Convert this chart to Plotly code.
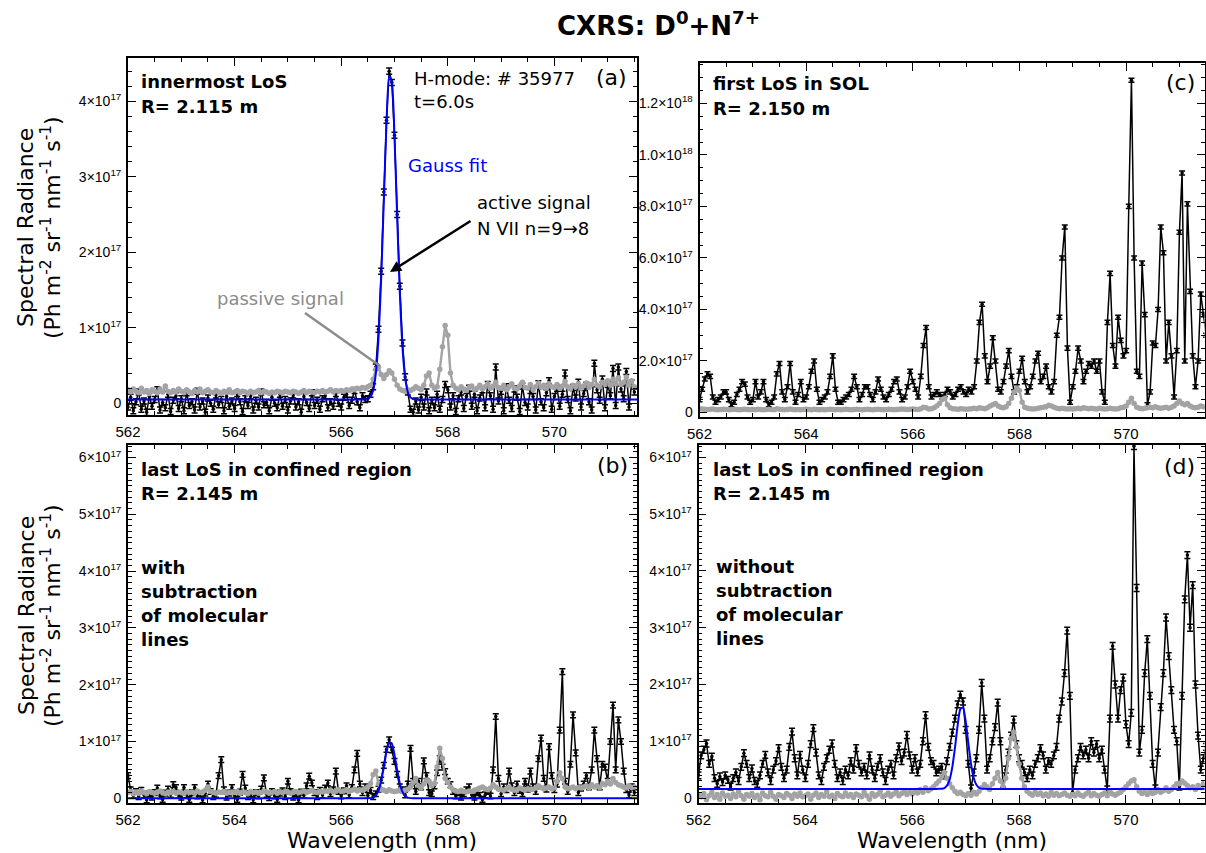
import numpy as np
import plotly.graph_objects as go

W, H = 1206, 853
UNIT = 1e16  # all spectral values below are in units of 1e16 Ph m^-2 sr^-1 nm^-1 s^-1

# detector wavelength grid (nm)
wl_start, wl_step, wl_count = 562.0, 0.05, 191
wavelength = np.round(wl_start + wl_step * np.arange(wl_count), 2)

# ---------------- panel (a): innermost LoS ----------------
a_active = [
    -0.5, 0.8, -1.0, 0.2, 1.5, -0.8, 0.3, -1.2, 0.9, -0.4, 0.5, 1.8, -0.9, 0.1, -0.6, 1.2, -1.1, 0.4, 1.0, -0.7,
    0.6, -1.0, 1.4, -0.3, 0.2, -0.9, 1.6, -0.5, 0.3, -1.2, 0.7, 0.0, -0.8, 1.1, -0.2, 0.5, -1.0, 0.9, -0.4, 0.3,
    -0.7, 1.3, 0.2, -1.1, 0.6, -0.3, 1.0, -0.9, 0.4, -0.5, 1.5, -0.2, 0.1, -1.0, 0.8, 0.0, -0.6, 1.2, -0.4, 0.5,
    -0.9, 0.3, 1.1, -0.5, 0.2, -1.2, 0.9, 0.1, -0.7, 1.4, -0.3, 0.4, -0.8, 0.6, 1.0, -0.6, 0.2, -0.4, 1.3, 0.0,
    -0.5, 0.8, 1.2, -0.3, 0.4, 1.7, 0.2, -0.6, 1.0, 0.5, 0.6, 1.2, 2.2, 4.8, 9.8, 17.5, 28.0, 37.5, 44.0, 42.5,
    35.5, 25.0, 15.5, 8.0, 3.5, 1.5, -0.8, -1.2, 0.3, -0.9, 0.8, -0.5, 1.5, -1.0, 0.4, -0.6, 1.2, -0.8, 0.5, 2.5,
    1.8, -0.5, 1.0, -1.1, 0.6, 1.5, -0.7, 0.9, 2.0, -0.4, 1.2, -1.0, 0.7, 1.8, -0.6, 2.5, 1.0, -0.8, 4.8, 0.3,
    1.6, -1.0, 2.2, 0.4, -0.7, 1.9, 0.8, -1.1, 2.3, 0.1, -0.5, 1.7, 0.9, -0.9, 2.6, 0.2, -0.6, 1.4, 3.0, -0.8,
    0.9, 2.0, -0.4, 1.2, 4.0, 0.5, -1.0, 2.1, 0.7, 2.8, -0.5, 1.3, 2.4, 0.2, -0.9, 5.3, 1.8, 0.4, 3.2, -0.6,
    2.5, 1.0, 4.6, -0.3, 4.8, 1.9, 0.6, 4.2, -0.5, 2.7, 1.5,
]
a_passive = [
    1.8, 1.5, 1.9, 1.6, 1.4, 2.0, 1.5, 1.7, 1.3, 1.8, 1.6, 1.4, 1.9, 1.5, 2.3, 1.6, 1.4, 1.7, 1.5, 1.9,
    1.6, 1.4, 1.8, 1.5, 1.3, 1.7, 1.5, 1.9, 1.4, 1.6, 1.8, 1.5, 1.4, 1.7, 1.5, 1.3, 1.6, 1.5, 1.8, 1.4,
    1.5, 1.7, 1.4, 1.6, 1.5, 1.3, 1.6, 1.4, 1.5, 1.7, 1.4, 1.6, 1.5, 1.3, 1.5, 1.4, 1.6, 1.5, 1.4, 1.6,
    1.5, 1.4, 1.6, 1.5, 1.3, 1.5, 1.7, 1.4, 1.6, 1.5, 1.4, 1.6, 1.5, 1.7, 1.5, 1.6, 1.8, 1.5, 1.7, 1.6,
    1.7, 1.6, 1.8, 1.7, 1.9, 1.8, 2.0, 1.9, 2.1, 2.0, 2.2, 2.4, 3.2, 4.5, 4.8, 3.8, 3.3, 3.8, 4.3, 4.0,
    3.2, 2.4, 1.9, 1.7, 1.6, 1.8, 1.7, 1.9, 2.2, 2.0, 1.8, 2.4, 3.6, 4.0, 2.4, 2.0, 2.2, 4.5, 7.5, 10.3,
    9.0, 4.0, 2.4, 2.0, 1.8, 2.2, 1.9, 1.7, 2.1, 2.3, 1.8, 2.0, 2.4, 1.9, 2.2, 2.6, 2.0, 2.3, 2.8, 2.1,
    2.0, 2.4, 1.8, 2.2, 2.6, 2.0, 1.9, 2.3, 2.8, 2.1, 2.0, 2.5, 1.8, 2.2, 2.7, 2.1, 2.4, 2.0, 2.6, 2.2,
    2.1, 2.5, 2.0, 2.3, 2.9, 2.2, 1.9, 2.4, 2.2, 2.6, 2.0, 2.3, 2.7, 2.1, 2.5, 3.2, 2.4, 2.2, 2.8, 2.5,
    3.0, 2.4, 3.2, 2.6, 3.4, 2.5, 2.8, 3.5, 2.4, 3.0, 2.2,
]
a_fit_x = [562.0, 566.40, 566.45, 566.50, 566.55, 566.60, 566.65, 566.70, 566.75, 566.80, 566.85, 566.90,
           566.95, 567.00, 567.05, 567.10, 567.15, 567.20, 567.25, 567.30, 567.35, 567.40, 567.45, 571.55]
a_fit_y = [0.5, 0.5, 0.52, 0.6, 0.87, 1.74, 3.96, 8.6, 16.5, 26.9, 37.2, 43.4,
           42.6, 35.3, 24.7, 14.6, 7.4, 3.36, 1.49, 0.79, 0.57, 0.5, 0.5, 0.5]
a_err = 0.4

# ---------------- panel (c): first LoS in SOL ----------------
c_active = [
    5, 9, 13, 15, 14, 6, 4, 5, 6, 8, 8, 5, 3, 4, 7, 9, 12, 11, 6, 4,
    5, 12, 6, 8, 12, 5, 3, 4, 6, 15, 19, 8, 5, 10, 19, 8, 4, 7, 12, 5,
    6, 10, 16, 20, 9, 4, 5, 6, 8, 14, 22, 9, 4, 4, 5, 6, 7, 9, 14, 10,
    5, 7, 10, 10, 7, 5, 8, 13, 9, 6, 5, 7, 9, 12, 13, 8, 5, 6, 10, 16,
    12, 9, 6, 14, 26, 33, 10, 6, 7, 8, 7, 6, 7, 9, 8, 6, 7, 9, 10, 8,
    7, 9, 8, 10, 20, 35, 42, 22, 12, 18, 29, 20, 9, 8, 12, 18, 24, 14, 8, 10,
    16, 21, 12, 8, 10, 14, 20, 23, 12, 14, 18, 10, 8, 12, 30, 37, 60, 72, 25, 4,
    10, 16, 25, 20, 12, 16, 19, 18, 20, 16, 20, 8, 4, 35, 54, 26, 18, 37, 28, 22,
    24, 80, 129, 60, 16, 14, 58, 38, 3, 8, 27, 26, 40, 72, 62, 20, 35, 22, 6, 24,
    70, 93, 20, 81, 47, 22, 10, 20, 46, 38, 30,
]
c_passive = [
    1.5, 1.4, 1.3, 1.2, 1.3, 1.4, 1.2, 1.1, 1.2, 1.3, 1.2, 1.1, 1.2, 1.3, 1.2, 1.1, 1.2, 1.3, 1.2, 1.1,
    1.2, 1.1, 1.3, 1.2, 1.1, 1.2, 1.3, 1.2, 1.1, 1.5, 1.3, 1.2, 1.1, 1.2, 1.4, 1.2, 1.1, 1.2, 1.1, 1.2,
    1.3, 1.2, 1.1, 1.3, 1.2, 1.1, 1.2, 1.1, 1.2, 1.3, 1.2, 1.1, 1.2, 1.1, 1.2, 1.3, 1.2, 1.1, 1.2, 1.3,
    1.2, 1.1, 1.2, 1.3, 1.2, 1.1, 1.2, 1.3, 1.2, 1.1, 1.2, 1.3, 1.2, 1.1, 1.2, 1.3, 1.4, 1.3, 1.2, 1.3,
    1.4, 1.3, 1.2, 1.5, 2.0, 1.8, 1.4, 1.5, 1.8, 2.5, 3.5, 5.0, 5.5, 3.0, 1.8, 1.5, 1.4, 1.3, 1.5, 1.4,
    1.3, 1.4, 1.5, 1.6, 1.5, 1.8, 1.6, 1.5, 1.8, 2.5, 3.0, 3.5, 2.5, 2.0, 1.8, 2.2, 3.5, 5.5, 8.0, 9.5,
    8.5, 4.0, 2.0, 1.6, 1.5, 1.4, 1.5, 1.6, 1.8, 2.0, 2.2, 2.8, 2.5, 2.0, 1.6, 1.5, 1.6, 1.5, 1.4, 1.5,
    1.4, 1.5, 1.6, 1.5, 1.8, 1.6, 1.5, 1.6, 1.5, 1.4, 1.6, 1.5, 1.4, 1.5, 1.6, 1.5, 1.4, 1.5, 1.8, 2.0,
    2.5, 4.0, 5.5, 3.5, 2.0, 1.6, 1.5, 1.6, 1.8, 2.0, 1.8, 2.2, 1.8, 1.6, 1.8, 2.0, 1.6, 2.0, 2.5, 3.5,
    4.5, 3.5, 3.0, 3.5, 2.5, 2.0, 1.8, 2.0, 2.5, 2.2, 2.0,
]
c_err = 0.8

# ---------------- panel (b): last confined LoS, with subtraction ----------------
b_active = [
    4.0, 1.5, 0.5, 1.2, 0.3, 1.4, 0.6, -0.3, 0.8, 0.2, 1.0, 1.8, 0.4, -0.2, 0.9, 1.6, 0.7, 2.4, 1.9, 0.5,
    0.2, 1.9, 0.6, -0.2, 1.0, 1.9, 0.4, 0.8, -0.3, 0.9, 2.5, 1.2, 0.3, 0.7, 4.0, 6.8, 1.5, 0.2, 0.9, 1.9,
    0.5, -0.2, 1.1, 4.2, 1.8, 0.3, 0.8, -0.3, 1.0, 0.4, 1.6, 3.6, 0.7, 0.1, 1.2, 0.4, -0.2, 0.9, 1.3, 0.3,
    3.0, 1.2, 0.2, 0.8, -0.3, 1.1, 0.5, 2.2, 3.9, 2.7, 1.0, 0.3, 1.4, 0.6, 1.8, 2.7, 0.8, 1.5, 4.8, 1.2,
    0.4, 1.3, 2.2, 0.6, 1.9, 5.0, 7.9, 2.5, 1.0, 2.0, 0.5, 1.4, 0.3, 0.8, 1.6, 3.2, 5.8, 8.6, 10.3, 8.5,
    6.5, 4.2, 2.0, 1.5, 0.6, 2.5, 8.8, 3.0, 1.2, 3.0, 2.0, 6.6, 4.0, 1.0, 0.8, 2.2, 4.5, 7.0, 5.5, 4.7,
    3.0, 2.4, 1.2, 0.4, 1.0, 0.2, 0.8, 1.5, 2.0, 0.6, 0.2, 1.0, 0.5, -0.2, 0.6, 1.2, 0.4, 5.0, 14.4, 3.5,
    0.8, 2.0, 1.5, 4.8, 2.2, 1.0, 2.5, 1.4, 0.8, 3.0, 1.6, 4.8, 2.0, 1.2, 7.0, 10.6, 3.5, 1.6, 9.1, 4.0,
    1.5, 2.5, 12.0, 22.3, 3.0, 1.2, 6.0, 14.7, 8.0, 1.0, 1.8, 2.5, 4.0, 2.0, 5.0, 12.0, 7.0, 2.0, 6.0, 5.5,
    3.0, 10.0, 16.4, 5.0, 13.8, 10.0, 4.8, 1.5, 0.6, 2.0, 1.0,
]
b_passive = [
    1.0, 1.2, 0.8, 1.1, 0.9, 1.3, 1.0, 0.8, 1.2, 1.0, 0.9, 1.1, 1.3, 1.0, 0.8, 1.1, 1.0, 1.2, 0.9, 1.1,
    1.0, 0.8, 1.2, 1.0, 1.1, 0.9, 1.3, 1.0, 1.1, 1.4, 2.0, 1.2, 1.0, 0.9, 1.1, 1.0, 1.2, 0.9, 1.0, 1.1,
    1.0, 1.2, 0.9, 1.1, 1.0, 0.8, 1.2, 1.0, 1.1, 0.9, 1.0, 1.3, 1.1, 0.9, 1.0, 1.2, 0.9, 1.1, 1.0, 1.2,
    1.1, 0.9, 1.0, 1.2, 1.0, 1.1, 1.3, 1.0, 1.2, 1.4, 1.1, 1.0, 1.2, 1.1, 1.3, 1.2, 1.4, 1.1, 1.3, 1.5,
    1.2, 1.3, 1.5, 1.2, 1.4, 1.6, 1.3, 1.5, 1.4, 1.7, 2.0, 2.6, 4.2, 4.8, 2.5, 1.6, 1.4, 1.2, 1.5, 1.3,
    1.2, 1.3, 1.5, 1.2, 1.4, 1.6, 2.0, 2.8, 3.5, 2.2, 1.8, 2.5, 3.2, 3.0, 2.2, 2.6, 5.5, 8.8, 7.0, 3.5,
    2.8, 2.0, 1.5, 1.3, 1.2, 1.4, 1.2, 1.1, 1.3, 1.2, 1.4, 1.6, 1.8, 2.0, 1.7, 1.5, 1.8, 2.4, 2.0, 1.6,
    1.5, 1.4, 1.7, 2.0, 1.6, 1.4, 1.5, 1.8, 1.6, 1.4, 1.7, 1.5, 1.6, 1.8, 2.2, 1.9, 1.7, 1.8, 2.0, 1.7,
    1.8, 3.0, 4.5, 3.5, 2.0, 1.7, 1.8, 2.0, 1.7, 1.9, 1.8, 2.0, 2.2, 1.8, 2.4, 2.0, 2.2, 1.9, 2.6, 2.4,
    3.0, 2.5, 3.5, 2.8, 2.4, 2.2, 2.0, 1.8, 2.2, 1.9, 2.0,
]
b_fit_x = [562.0, 566.45, 566.50, 566.55, 566.60, 566.65, 566.70, 566.75, 566.80, 566.85, 566.90, 566.95,
           567.00, 567.05, 567.10, 567.15, 567.20, 567.25, 567.30, 567.35, 567.40, 571.55]
b_fit_y = [0.0, 0.0, 0.01, 0.03, 0.15, 0.49, 1.35, 3.03, 5.51, 8.17, 9.84, 9.63,
           7.68, 4.97, 2.62, 1.12, 0.39, 0.11, 0.03, 0.0, 0.0, 0.0]
b_err = 0.5

# ---------------- panel (d): last confined LoS, without subtraction ----------------
d_active = [
    4.0, 7.5, 8.5, 9.6, 6.0, 7.3, 3.5, 2.5, 3.8, 2.8, 4.0, 3.2, 2.0, 3.5, 4.5, 3.0, 5.5, 7.9, 6.0, 3.5,
    5.2, 3.0, 2.5, 4.0, 6.0, 7.6, 4.5, 3.0, 5.0, 6.5, 8.8, 5.5, 3.5, 5.0, 9.0, 11.7, 7.0, 4.0, 7.6, 5.0,
    3.5, 6.0, 9.5, 12.3, 8.0, 4.0, 3.0, 5.5, 7.0, 8.5, 9.6, 6.0, 3.5, 4.5, 3.0, 5.0, 4.0, 6.5, 5.0, 8.8,
    6.0, 4.5, 5.5, 4.0, 7.5, 5.0, 3.5, 5.5, 7.0, 4.5, 3.0, 5.0, 6.0, 4.0, 7.0, 9.1, 6.5, 8.0, 11.1, 7.5,
    5.0, 7.0, 4.5, 6.0, 10.0, 14.6, 9.0, 6.5, 6.0, 4.5, 5.0, 5.5, 4.0, 6.5, 9.0, 11.5, 14.0, 16.5, 18.2, 17.0,
    12.0, 6.0, 1.7, 4.5, 7.0, 12.0, 20.3, 14.0, 5.0, 7.0, 10.0, 12.5, 16.8, 10.0, 2.5, 5.0, 8.0, 11.0, 13.8, 9.5,
    7.0, 6.0, 4.5, 3.5, 5.0, 4.0, 6.0, 7.0, 8.8, 7.5, 5.0, 6.5, 6.0, 7.5, 9.0, 14.0, 17.0, 22.0, 29.5, 18.0,
    1.0, 5.0, 7.0, 9.0, 7.5, 8.5, 7.0, 10.0, 8.0, 9.5, 7.0, 8.5, 5.0, 1.5, 14.0, 26.8, 20.0, 14.0, 19.0, 21.2,
    13.0, 9.5, 15.0, 62.0, 37.0, 8.0, 12.0, 22.0, 28.0, 18.0, 6.0, 1.7, 8.0, 16.0, 22.0, 31.8, 25.0, 19.0, 12.0, 10.0,
    2.0, 18.0, 35.0, 42.8, 30.0, 37.5, 20.0, 11.0, 5.0, 7.0, 9.0,
]
d_passive = [
    0.5, 0.2, 0.8, -0.3, 0.4, 1.0, 0.1, 0.6, -0.2, 0.9, 0.3, 0.5, -0.1, 0.7, 0.2, 1.1, 0.4, -0.2, 0.6, 0.3,
    0.8, 0.1, 0.5, -0.3, 0.9, 0.4, 0.2, 1.0, 0.3, -0.2, 0.6, 0.4, 0.1, 0.8, 0.5, -0.1, 0.7, 0.3, 0.9, 0.2,
    0.4, 0.7, -0.2, 0.5, 0.9, 0.1, 0.6, 0.3, 1.1, 0.2, 0.5, -0.1, 0.8, 0.4, 0.2, 0.9, 0.3, 0.6, 0.1, 0.7,
    0.5, 0.2, 1.0, 0.4, -0.2, 0.8, 0.3, 0.6, 1.2, 0.2, 0.5, 0.9, 0.3, 0.7, 1.1, 0.4, 0.8, 1.3, 0.6, 1.0,
    0.7, 1.2, 0.9, 1.5, 1.0, 1.8, 1.3, 1.6, 2.0, 2.5, 3.0, 3.8, 4.5, 3.5, 2.5, 1.8, 1.2, 0.8, 1.0, 0.6,
    0.4, 0.8, 0.5, 1.0, 0.7, 1.2, 1.8, 2.4, 2.0, 1.5, 2.5, 3.5, 4.5, 3.0, 2.0, 3.5, 7.0, 10.5, 11.6, 9.0,
    6.0, 3.5, 2.0, 1.2, 0.8, 0.5, 1.0, 0.6, 0.9, 0.4, 0.7, 0.3, 1.0, 0.5, 0.8, 0.4, 0.6, 0.9, 0.5, 0.3,
    0.6, 0.4, 0.9, 0.5, 0.3, 0.7, 1.0, 0.4, 0.8, 0.5, 0.3, 0.6, 0.9, 0.4, 1.2, 0.7, 0.5, 0.8, 1.0, 1.5,
    2.0, 2.5, 3.0, 3.2, 2.0, 1.2, 0.8, 1.0, 0.6, 1.2, 0.8, 1.0, 1.5, 1.0, 1.3, 1.8, 1.2, 1.5, 2.0, 2.5,
    2.5, 3.0, 2.6, 2.2, 1.8, 2.0, 1.5, 2.2, 1.8, 2.5, 2.0,
]
d_fit_x = [562.0, 566.45, 566.50, 566.55, 566.60, 566.65, 566.70, 566.75, 566.80, 566.85, 566.90, 566.95,
           567.00, 567.05, 567.10, 567.15, 567.20, 567.25, 567.30, 567.35, 567.40, 571.55]
d_fit_y = [1.6, 1.6, 1.61, 1.64, 1.76, 2.17, 3.24, 5.43, 8.86, 12.81, 15.66, 15.96,
           13.53, 9.65, 6.02, 3.57, 2.32, 1.81, 1.65, 1.61, 1.6, 1.6]
d_err = 0.6

# ---------------- axes tick labels ----------------
x_tickvals = [562, 564, 566, 568, 570]
x_ticktext = ["562", "564", "566", "568", "570"]
y_tick_a = [0, 1e17, 2e17, 3e17, 4e17]
y_text_a = ["0", "1×10<sup>17</sup>", "2×10<sup>17</sup>", "3×10<sup>17</sup>", "4×10<sup>17</sup>"]
y_tick_c = [0, 2e17, 4e17, 6e17, 8e17, 1.0e18, 1.2e18]
y_text_c = ["0", "2.0×10<sup>17</sup>", "4.0×10<sup>17</sup>", "6.0×10<sup>17</sup>",
            "8.0×10<sup>17</sup>", "1.0×10<sup>18</sup>", "1.2×10<sup>18</sup>"]
y_tick_bd = [0, 1e17, 2e17, 3e17, 4e17, 5e17, 6e17]
y_text_bd = ["0", "1×10<sup>17</sup>", "2×10<sup>17</sup>", "3×10<sup>17</sup>",
             "4×10<sup>17</sup>", "5×10<sup>17</sup>", "6×10<sup>17</sup>"]

# ---------------- layout helpers (pixel -> paper) ----------------
def xdom(l, r):
    return [l / W, r / W]

def ydom(t, b):
    return [1 - b / H, 1 - t / H]

def px(x):
    return x / W

def py(y):
    return 1 - y / H

BLACK = "#000000"
GREY = "#a3a3a3"
BLUE = "#0000ff"

fig = go.Figure()

panels = [
    # key, active, passive, err, fit_x, fit_y
    ("", a_active, a_passive, a_err, a_fit_x, a_fit_y),
    ("2", c_active, c_passive, c_err, None, None),
    ("3", b_active, b_passive, b_err, b_fit_x, b_fit_y),
    ("4", d_active, d_passive, d_err, d_fit_x, d_fit_y),
]

for key, act, pas, err, fx, fy in panels:
    xa, ya = "x" + key, "y" + key
    fig.add_trace(go.Scatter(
        x=wavelength, y=np.array(act) * UNIT, xaxis=xa, yaxis=ya, mode="lines+markers",
        line=dict(color=BLACK, width=1.5), marker=dict(color=BLACK, size=3.5),
        error_y=dict(type="constant", value=err * UNIT, color=BLACK, thickness=1.5, width=3),
        showlegend=False, hoverinfo="skip"))
    fig.add_trace(go.Scatter(
        x=wavelength, y=np.array(pas) * UNIT, xaxis=xa, yaxis=ya, mode="lines+markers",
        line=dict(color=GREY, width=2.4), marker=dict(color=GREY, size=5.5),
        showlegend=False, hoverinfo="skip"))
    if fx is not None:
        fig.add_trace(go.Scatter(
            x=fx, y=np.array(fy) * UNIT, xaxis=xa, yaxis=ya, mode="lines",
            line=dict(color=BLUE, width=2, shape="spline", smoothing=0.6),
            showlegend=False, hoverinfo="skip"))

TICKFONT_X = dict(family="Liberation Sans, Arial, sans-serif", size=15, color=BLACK)
TICKFONT_Y = dict(family="Liberation Sans, Arial, sans-serif", size=14, color=BLACK)

def xaxis_style(dom, rng, anchor):
    return dict(domain=dom, range=rng, anchor=anchor, showgrid=False, zeroline=False,
                automargin=False,
                showline=True, linecolor=BLACK, linewidth=1.8, mirror="allticks",
                ticks="inside", ticklen=8, tickwidth=1.3, tickcolor=BLACK,
                tickmode="array", tickvals=x_tickvals, ticktext=x_ticktext,
                tickfont=TICKFONT_X, ticklabelstandoff=2,
                minor=dict(ticks="inside", ticklen=4, tickwidth=1, tickcolor=BLACK,
                           tickmode="linear", tick0=562, dtick=0.5))

def yaxis_style(dom, rng, anchor, tv, tt, minor_dt):
    return dict(domain=dom, range=rng, anchor=anchor, showgrid=False, zeroline=False,
                automargin=False,
                showline=True, linecolor=BLACK, linewidth=1.8, mirror="allticks",
                ticks="inside", ticklen=8, tickwidth=1.3, tickcolor=BLACK,
                tickmode="array", tickvals=tv, ticktext=tt, tickfont=TICKFONT_Y,
                ticklabelstandoff=2,
                minor=dict(ticks="inside", ticklen=4, tickwidth=1, tickcolor=BLACK,
                           tickmode="linear", tick0=0, dtick=minor_dt))

fig.update_layout(
    width=W, height=H, margin=dict(l=0, r=0, t=0, b=0, autoexpand=False),
    paper_bgcolor="white", plot_bgcolor="white", showlegend=False,
    xaxis=xaxis_style(xdom(128, 637), [562, 571.55], "y"),
    yaxis=yaxis_style(ydom(58.3, 415), [-1.55e16, 4.57e17], "x", y_tick_a, y_text_a, 2e16),
    xaxis2=xaxis_style(xdom(699.5, 1204.5), [562, 571.47], "y2"),
    yaxis2=yaxis_style(ydom(62.7, 417), [-1.75e16, 1.358e18], "x2", y_tick_c, y_text_c, 5e16),
    xaxis3=xaxis_style(xdom(128, 637), [562, 571.55], "y3"),
    yaxis3=yaxis_style(ydom(445, 803.3), [-8.8e15, 6.22e17], "x3", y_tick_bd, y_text_bd, 1e16),
    xaxis4=xaxis_style(xdom(698.5, 1204.5), [562, 571.47], "y4"),
    yaxis4=yaxis_style(ydom(445, 803), [-8.8e15, 6.22e17], "x4", y_tick_bd, y_text_bd, 1e16),
)

FONT = "DejaVu Sans, Verdana, sans-serif"

def note(x, y, text, size=18, color=BLACK, xanchor="left", angle=0):
    fig.add_annotation(x=px(x), y=py(y), xref="paper", yref="paper", text=text,
                       showarrow=False, xanchor=xanchor, yanchor="middle", textangle=angle,
                       font=dict(family=FONT, size=size, color=color))

# title
note(658, 24, "<b>CXRS: D<sup>0</sup>+N<sup>7+</sup></b>", size=26, xanchor="center")

# y-axis titles
for yc in (228, 616):
    note(26, yc, "Spectral Radiance", size=22, xanchor="center", angle=-90)
    note(51, yc, "(Ph m<sup>-2</sup> sr<sup>-1</sup> nm<sup>-1</sup> s<sup>-1</sup>)", size=22,
         xanchor="center", angle=-90)

# x-axis titles
note(382, 840, "Wavelength (nm)", size=22, xanchor="center")
note(952, 840, "Wavelength (nm)", size=22, xanchor="center")

# panel (a)
note(139, 81, "<b>innermost LoS</b>")
note(139, 106, "<b>R= 2.115 m</b>")
note(412, 79, "H-mode: # 35977")
note(412, 102, "t=6.0s")
note(629, 78, "(a)", size=22, xanchor="right")
note(406, 165, "Gauss fit", color=BLUE)
note(475, 203, "active signal")
note(475, 229, "N VII n=9→8")
note(215, 299, "passive signal", color="#8c8c8c")
fig.add_annotation(x=px(390), y=py(272), xref="paper", yref="paper", text="",
                   showarrow=True, ax=82, ay=-52, arrowhead=2, arrowsize=0.9,
                   arrowwidth=2.5, arrowcolor=BLACK)
fig.add_shape(type="line", xref="paper", yref="paper", x0=px(305), y0=py(313), x1=px(380), y1=py(366),
              line=dict(color="#8c8c8c", width=2.5))

# panel (c)
note(711, 84, "<b>first LoS in SOL</b>")
note(711, 108, "<b>R= 2.150 m</b>")
note(1197, 82, "(c)", size=22, xanchor="right")

# panel (b)
note(139, 469, "<b>last LoS in confined region</b>")
note(139, 494, "<b>R= 2.145 m</b>")
note(630, 465, "(b)", size=22, xanchor="right")
for i, t in enumerate(["with", "subtraction", "of molecular", "lines"]):
    note(139, 567 + 24 * i, "<b>" + t + "</b>")

# panel (d)
note(711, 469, "<b>last LoS in confined region</b>")
note(711, 494, "<b>R= 2.145 m</b>")
note(1197, 467, "(d)", size=22, xanchor="right")
for i, t in enumerate(["without", "subtraction", "of molecular", "lines"]):
    note(714, 566 + 24 * i, "<b>" + t + "</b>")

fig.write_html("out.html")
